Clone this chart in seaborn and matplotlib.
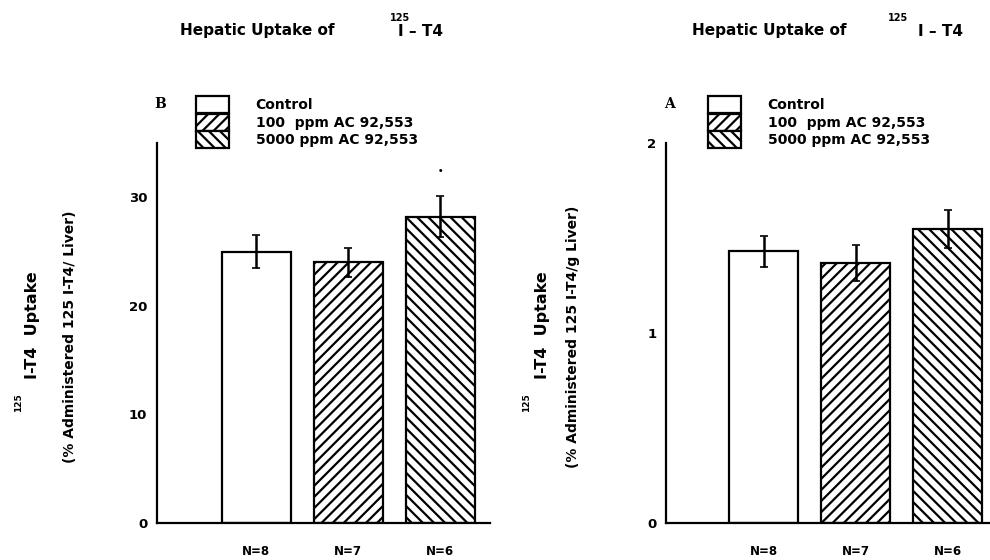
"""
Hepatic uptake of 125I-T4 - two panel bar chart (B: per liver, A: per g liver)
"""
import matplotlib
matplotlib.use("Agg")
import matplotlib.pyplot as plt
from matplotlib.patches import Patch
import seaborn as sns
import pandas as pd

# Data
groups = ["Control", "100 ppm AC 92,553", "5000 ppm AC 92,553"]
legend_labels = ["Control", "100  ppm AC 92,553", "5000 ppm AC 92,553"]
n_labels = ["N=8", "N=7", "N=6"]
hatches = ["", "///", "\\\\\\"]

# Panel B: % administered 125 I-T4 / liver
uptake_liver = [25.0, 24.0, 28.2]
err_liver = [1.5, 1.3, 1.9]
# Panel A: % administered 125 I-T4 / g liver
uptake_gliver = [1.43, 1.37, 1.55]
err_gliver = [0.08, 0.095, 0.10]

W, H = 990, 560


def fx(px):
    return px / W


def fy(py):
    return 1 - py / H


panels = [
    {"letter": "B", "vals": uptake_liver, "errs": err_liver, "ylim": (0, 35),
     "yticks": [0, 10, 20, 30], "ylabel2": "(% Administered 125 I-T4/ Liver)",
     "rect": [fx(157), fy(523), fx(333), 380 / H], "xlim": (-1.08, 2.54),
     "star": True, "title_x": 180, "sup_x": 390, "it4_x": 398,
     "lab1_x": 33, "lab2_x": 70, "sup_lab_x": 19, "legend_x": 196},
    {"letter": "A", "vals": uptake_gliver, "errs": err_gliver, "ylim": (0, 2),
     "yticks": [0, 1, 2], "ylabel2": "(% Administered 125 I-T4/g Liver)",
     "rect": [fx(666), fy(523), fx(323), 380 / H], "xlim": (-1.06, 2.45),
     "star": False, "title_x": 692, "sup_x": 888, "it4_x": 918,
     "lab1_x": 542, "lab2_x": 573, "sup_lab_x": 527, "legend_x": 708},
]

sns.set_style("white")
plt.rcParams['font.family'] = ['DejaVu Sans']
plt.rcParams['font.weight'] = 'bold'
plt.rcParams['hatch.linewidth'] = 1.6
plt.rcParams['text.color'] = 'black'
plt.rcParams['xtick.color'] = 'black'
plt.rcParams['ytick.color'] = 'black'
plt.rcParams['axes.labelcolor'] = 'black'

fig = plt.figure(figsize=(9.9, 5.6), dpi=100)

for p in panels:
    ax = fig.add_axes(p["rect"])
    df = pd.DataFrame({"group": groups, "value": p["vals"]})
    sns.barplot(data=df, x="group", y="value", ax=ax, color="white",
                edgecolor="black", linewidth=1.6, width=0.75, errorbar=None,
                saturation=1)
    for patch, h in zip(ax.patches, hatches):
        patch.set_hatch(h)
        patch.set_facecolor("white")
    ax.errorbar(range(len(groups)), p["vals"], yerr=p["errs"], fmt="none",
                ecolor="black", elinewidth=1.8, capsize=3, capthick=1.2)
    if p["star"]:
        ax.text(2, p["vals"][2] + p["errs"][2] + 2.3, "•", ha="center",
                va="center", fontsize=6)

    ax.set_xlim(*p["xlim"])
    ax.set_ylim(*p["ylim"])
    ax.set_yticks(p["yticks"])
    ax.set_xticks(range(len(groups)))
    ax.set_xticklabels(n_labels, fontsize=8.5, fontweight="bold")
    ax.tick_params(axis="x", length=0, pad=16)
    ax.tick_params(axis="y", direction="in", length=3, width=1.2,
                   labelsize=9.5, pad=7)
    ax.set_xlabel("")
    ax.set_ylabel("")
    sns.despine(ax=ax)
    for s in ["left", "bottom"]:
        ax.spines[s].set_linewidth(1.6)
        ax.spines[s].set_color("black")

    # panel letter
    fig.text(fx(p["rect"][0] * W + 3), fy(104), p["letter"], fontsize=10,
             fontweight="bold", ha="center", va="center", family="DejaVu Serif")
    # title with raised 125 over the gap
    fig.text(fx(p["title_x"]), fy(31), "Hepatic Uptake of", fontsize=11,
             fontweight="bold", ha="left", va="center")
    fig.text(fx(p["sup_x"]), fy(18), "125", fontsize=7,
             fontweight="bold", ha="left", va="center")
    fig.text(fx(p["it4_x"]), fy(31), "I – T4", fontsize=11,
             fontweight="bold", ha="left", va="center")
    # y labels (two lines, rotated)
    fig.text(fx(p["sup_lab_x"]), fy(403), "125", rotation=90, fontsize=6.5,
             fontweight="bold", ha="center", va="center")
    fig.text(fx(p["lab1_x"]), fy(325), "I-T4  Uptake", rotation=90,
             fontsize=11.5, fontweight="bold", ha="center", va="center")
    fig.text(fx(p["lab2_x"]), fy(337), p["ylabel2"], rotation=90,
             fontsize=10, fontweight="bold", ha="center", va="center")

    handles = [Patch(facecolor="white", edgecolor="black", hatch=h,
                     linewidth=1.6) for h in hatches]
    fig.legend(handles, legend_labels, loc="upper left",
               bbox_to_anchor=(fx(p["legend_x"]), fy(96)), frameon=False,
               fontsize=10, handlelength=2.4, handleheight=1.5,
               handletextpad=1.9, labelspacing=0.05, borderpad=0,
               borderaxespad=0)

plt.savefig("out.png", dpi=100)
